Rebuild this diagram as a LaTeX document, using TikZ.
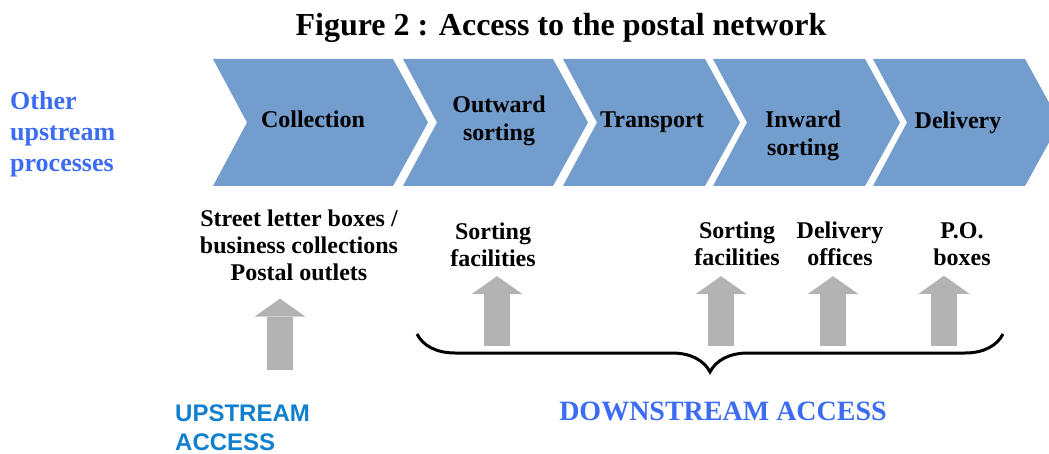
\documentclass[tikz,border=0pt]{standalone}
\usepackage{fontspec}
\setmainfont{Liberation Serif}
\setsansfont{Liberation Sans}
\usepackage{tikz}
\usetikzlibrary{positioning, arrows.meta, decorations.pathreplacing, calc}

\definecolor{stageblue}{RGB}{115,157,205}
\definecolor{accessblue}{RGB}{60,108,242}
\definecolor{upblue}{RGB}{16,128,206}
\definecolor{arrowgray}{RGB}{179,179,179}

\begin{document}
\begin{tikzpicture}[x=1pt, y=-1pt,
    stage/.style={font=\fontsize{24}{28}\selectfont\bfseries, align=center, inner sep=0pt},
    point/.style={font=\fontsize{24}{27}\selectfont\bfseries, align=center, inner sep=0pt},
    uparrow/.style={arrowgray, line width=26pt, -{Triangle[width=51pt, length=18pt, line width=0pt]}}]
    \useasboundingbox (0,0) rectangle (1049,454);

    % title
    \node[font=\fontsize{32}{36}\selectfont\bfseries] (title) at (561,28) {Figure 2 : Access to the postal network};

    % value chain
    \foreach \xl/\xr/\xt/\yt/\nm/\txt in {213/393/313/119/coll/Collection, 403/553/499/121/outsort/{Outward\\sorting}, 563/705/652/122/transp/Transport, 713/865/803/136/insort/{Inward\\sorting}, 873/1025/958/123/deliv/Delivery} {
        \fill[stageblue] (\xl,59) -- (\xr,59) -- ++(35,63.5) -- (\xr,186) -- (\xl,186) -- ++(34,-63.5) -- cycle;
        \node[stage] (\nm) at (\xt,\yt) {\txt};
    }
    \node[anchor=west, align=left, inner sep=0pt, text=accessblue, font=\fontsize{26}{31}\selectfont\bfseries] (other) at (10,134) {Other\\upstream\\processes};

    % access points
    \node[point] (street) at (299,245) {Street letter boxes /\\business collections\\Postal outlets};
    \node[point] (sortA) at (493,245) {Sorting\\facilities};
    \node[point] (sortB) at (737,244) {Sorting\\facilities};
    \node[point] (offices) at (840,244) {Delivery\\offices};
    \node[point] (pobox) at (962,244) {P.O.\\boxes};

    \coordinate (upTail) at (280,370);
    \coordinate (sortATail) at (497,346);
    \coordinate (sortBTail) at (721,346);
    \coordinate (officesTail) at (833,346);
    \coordinate (poboxTail) at (944,346);

    \draw[uparrow, shorten >=18pt] (upTail) -- (upTail |- street.south);
    \draw[uparrow, shorten >=9pt] (sortATail) -- (sortATail |- sortA.south);
    \draw[uparrow, shorten >=10pt] (sortBTail) -- (sortBTail |- sortB.south);
    \draw[uparrow, shorten >=10pt] (officesTail) -- (officesTail |- offices.south);
    \draw[uparrow, shorten >=10pt] (poboxTail) -- (poboxTail |- pobox.south);

    % downstream brace
    \coordinate (braceL) at (417,334);
    \coordinate (braceR) at (1003,334);
    \draw[decorate, decoration={brace, mirror, amplitude=38pt}, line width=3pt] (braceL) -- (braceR);

    \node[anchor=west, align=left, inner sep=0pt, text=upblue, font=\fontsize{24}{29}\selectfont\sffamily\bfseries] (upstream) at (175,428) {UPSTREAM\\ACCESS};
    \node[inner sep=0pt, text=accessblue, font=\fontsize{28}{32}\selectfont\bfseries] (downstream) at (723,411) {DOWNSTREAM ACCESS};
\end{tikzpicture}
\end{document}
